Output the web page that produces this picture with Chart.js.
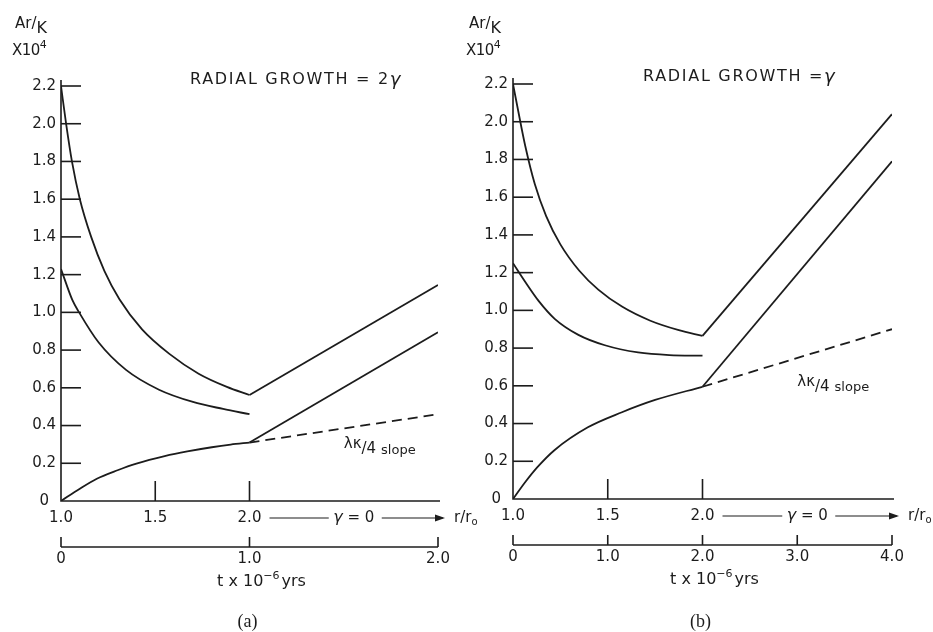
<!DOCTYPE html>
<html>
<head>
<meta charset="utf-8">
<script src="https://cdn.jsdelivr.net/npm/chart.js@4.4.0/dist/chart.umd.min.js"></script>
<style>
  html, body { margin: 0; padding: 0; background: #fff; }
  #wrap { position: relative; width: 933px; height: 632px; overflow: hidden; }
  canvas { position: absolute; top: 0; }
  #ca { left: 0; }
  #cb { left: 466px; }
</style>
</head>
<body>
<div id="wrap">
  <canvas id="ca" width="490" height="632"></canvas>
  <canvas id="cb" width="467" height="632"></canvas>
</div>
<script>
// y axis (Ar/K x 10^4), shared by both panels
const yTicks = [0, 0.2, 0.4, 0.6, 0.8, 1.0, 1.2, 1.4, 1.6, 1.8, 2.0, 2.2];
const yTickLabels = ['0', '0.2', '0.4', '0.6', '0.8', '1.0', '1.2', '1.4', '1.6', '1.8', '2.0', '2.2'];
const rLabels = ['1.0', '1.5', '2.0'];

// panel (a): radial growth = 2 gamma, x in t (10^6 yrs)
const aRTicks = [0, 0.5, 1.0];
const aTimeTicks = [0, 1.0, 2.0];
const aTimeLabels = ['0', '1.0', '2.0'];
const aUpperT = [0, 0.027, 0.058, 0.1, 0.16, 0.23, 0.31, 0.43, 0.575, 0.73, 0.88, 1.0];
const aUpperY = [2.2, 2.0, 1.8, 1.6, 1.4, 1.22, 1.07, 0.91, 0.78, 0.675, 0.605, 0.562];
const aMidT = [0, 0.06, 0.096, 0.2, 0.345, 0.52, 0.7, 0.86, 1.0];
const aMidY = [1.23, 1.066, 1.0, 0.84, 0.695, 0.59, 0.525, 0.488, 0.46];
const aLowT = [0, 0.1, 0.19, 0.3, 0.4, 0.55, 0.67, 0.8, 0.9, 1.0];
const aLowY = [0, 0.065, 0.118, 0.163, 0.198, 0.238, 0.263, 0.285, 0.299, 0.31];
const aUpperLineY = [0.562, 1.145];   // t = 1 -> 2
const aLowLineY = [0.31, 0.895];
const aSlopeY = [0.31, 0.46];

// panel (b): radial growth = gamma
const bRTicks = [0, 1.0, 2.0];
const bTimeTicks = [0, 1.0, 2.0, 3.0, 4.0];
const bTimeLabels = ['0', '1.0', '2.0', '3.0', '4.0'];
const bUpperT = [0, 0.05, 0.13, 0.23, 0.35, 0.5, 0.7, 0.9, 1.15, 1.45, 1.75, 2.0];
const bUpperY = [2.2, 2.07, 1.87, 1.67, 1.5, 1.35, 1.21, 1.11, 1.02, 0.945, 0.895, 0.865];
const bMidT = [0, 0.13, 0.27, 0.44, 0.69, 0.97, 1.32, 1.65, 2.0];
const bMidY = [1.25, 1.15, 1.05, 0.955, 0.87, 0.815, 0.777, 0.763, 0.76];
const bLowT = [0, 0.13, 0.26, 0.44, 0.79, 1.15, 1.5, 2.0];
const bLowY = [0, 0.09, 0.17, 0.26, 0.38, 0.46, 0.525, 0.595];
const bUpperLineY = [0.865, 2.04];   // t = 2 -> 4
const bLowLineY = [0.595, 1.79];
const bSlopeY = [0.595, 0.90];

const INK = '#1c1c1c';
const SANS = '"DejaVu Sans", sans-serif';

function pts(xs, ys) { return xs.map((x, i) => ({ x: x, y: ys[i] })); }

function curve(data) {
  return { data: data, borderColor: INK, borderWidth: 1.8, pointRadius: 0,
           cubicInterpolationMode: 'monotone', fill: false };
}
function straight(data, dash) {
  return { data: data, borderColor: INK, borderWidth: 1.8, pointRadius: 0,
           tension: 0, fill: false, borderDash: dash || [] };
}

// draw a row of text pieces (normal / super / sub)
function runs(ctx, parts, x, y, align) {
  let total = 0;
  parts.forEach(p => {
    ctx.font = p.f; ctx.letterSpacing = p.ls || '0px';
    total += ctx.measureText(p.t).width + (p.gap || 0);
  });
  let cx = align === 'center' ? x - total / 2 : (align === 'right' ? x - total : x);
  ctx.textAlign = 'left';
  ctx.textBaseline = 'middle';
  parts.forEach(p => {
    ctx.font = p.f;
    ctx.letterSpacing = p.ls || '0px';
    ctx.fillText(p.t, cx, y + (p.dy || 0));
    cx += ctx.measureText(p.t).width + (p.gap || 0);
  });
  ctx.letterSpacing = '0px';
}

const axesPlugin = {
  id: 'paperAxes',
  afterDraw(chart) {
    const o = chart.options.plugins.paperAxes;
    const { ctx, chartArea: a } = chart;
    const xs = chart.scales.x, ys = chart.scales.y;
    ctx.save();
    ctx.strokeStyle = INK;
    ctx.fillStyle = INK;
    ctx.lineWidth = 1.6;

    // main axes
    ctx.beginPath();
    ctx.moveTo(a.left, a.top - 6);
    ctx.lineTo(a.left, a.bottom);
    ctx.lineTo(a.right + 2, a.bottom);
    ctx.stroke();

    // y ticks inward + labels
    ctx.font = '15px ' + SANS;
    ctx.textAlign = 'right';
    ctx.textBaseline = 'middle';
    yTicks.forEach((v, i) => {
      const py = ys.getPixelForValue(v);
      if (v > 0) {
        ctx.beginPath(); ctx.moveTo(a.left, py); ctx.lineTo(a.left + 20, py); ctx.stroke();
        ctx.fillText(yTickLabels[i], a.left - 5, py);
      } else {
        ctx.fillText(yTickLabels[i], a.left - 12, py);
      }
    });

    // r/r0 ticks (upwards) and labels
    o.rTicks.forEach((t, i) => {
      const px = xs.getPixelForValue(t);
      if (i > 0) {
        ctx.beginPath(); ctx.moveTo(px, a.bottom); ctx.lineTo(px, a.bottom - 20); ctx.stroke();
      }
      ctx.textAlign = 'center';
      ctx.fillText(rLabels[i], px, a.bottom + 17);
    });

    // "---- gamma = 0 ---->" r/r0
    const x2 = xs.getPixelForValue(o.rTicks[o.rTicks.length - 1]);
    const xEnd = xs.getPixelForValue(xs.max);
    const gy = a.bottom + 17;
    const gc = (x2 + xEnd) / 2 + 10;
    ctx.lineWidth = 1.2;
    ctx.beginPath();
    ctx.moveTo(x2 + 20, gy); ctx.lineTo(gc - 25, gy);
    ctx.moveTo(gc + 28, gy); ctx.lineTo(xEnd + 5, gy);
    ctx.stroke();
    ctx.beginPath();
    ctx.moveTo(xEnd + 7, gy); ctx.lineTo(xEnd - 3, gy - 3.5); ctx.lineTo(xEnd - 3, gy + 3.5);
    ctx.closePath(); ctx.fill();
    runs(ctx, [{ t: 'γ', f: 'italic 16px ' + SANS }, { t: ' = 0', f: '15px ' + SANS }], gc, gy, 'center');
    runs(ctx, [{ t: 'r/r', f: '15px ' + SANS }, { t: 'o', f: '10px ' + SANS, dy: 4 }], xEnd + 16, gy, 'left');

    // time axis
    const ty = a.bottom + 46;
    ctx.lineWidth = 1.6;
    ctx.beginPath(); ctx.moveTo(a.left, ty); ctx.lineTo(xEnd, ty); ctx.stroke();
    ctx.font = '15px ' + SANS;
    o.timeTicks.forEach((t, i) => {
      const px = xs.getPixelForValue(t);
      ctx.beginPath(); ctx.moveTo(px, ty); ctx.lineTo(px, ty - 10); ctx.stroke();
      ctx.textAlign = 'center'; ctx.textBaseline = 'middle';
      ctx.fillText(o.timeLabels[i], px, ty + 12);
    });
    const tc = xs.getPixelForValue((xs.min + xs.max) / 2) + 12;
    runs(ctx, [{ t: 't x 10', f: '16px ' + SANS }, { t: '−6', f: '11px ' + SANS, dy: -6, gap: 2 },
               { t: 'yrs', f: '16px ' + SANS }], tc, a.bottom + 81, 'center');

    // caption
    ctx.font = '18px "Liberation Serif", serif';
    ctx.textAlign = 'center';
    ctx.fillText(o.caption, xs.getPixelForValue((xs.min + xs.max) / 2) - 2, 622);

    // y axis title
    const lx = o.yTitleX;
    runs(ctx, [{ t: 'Ar/', f: '15px ' + SANS }, { t: 'K', f: '16px ' + SANS, dy: 5 }], lx + 3, 24, 'left');
    runs(ctx, [{ t: 'X10', f: '15px ' + SANS, ls: '-0.5px' }, { t: '4', f: '11px ' + SANS, dy: -6 }], lx, 51, 'left');

    // panel title
    runs(ctx, o.title, o.titleX, o.titleY, 'left');

    // slope note
    const sx = xs.getPixelForValue(o.slopeAt[0]);
    const sy = ys.getPixelForValue(o.slopeAt[1]);
    runs(ctx, [{ t: 'λκ', f: '15px ' + SANS }, { t: '/4', f: '15px ' + SANS, dy: 5, gap: 5 },
               { t: 'slope', f: '13px ' + SANS, dy: 6 }], sx, sy, 'left');
    ctx.restore();
  }
};

function makePanel(id, p) {
  return new Chart(document.getElementById(id), {
    type: 'line',
    data: { datasets: p.datasets },
    options: {
      responsive: false,
      animation: false,
      devicePixelRatio: 1,
      layout: { padding: p.padding },
      scales: {
        x: { type: 'linear', min: 0, max: p.tMax, display: false },
        y: { type: 'linear', min: 0, max: 2.2, display: false }
      },
      plugins: {
        legend: { display: false },
        tooltip: { enabled: false },
        paperAxes: p.axes
      }
    },
    plugins: [axesPlugin]
  });
}

makePanel('ca', {
  tMax: 2.0,
  padding: { left: 61, right: 52, top: 86, bottom: 131 },
  datasets: [
    curve(pts(aUpperT, aUpperY)),
    curve(pts(aMidT, aMidY)),
    curve(pts(aLowT, aLowY)),
    straight(pts([1.0, 2.0], aUpperLineY)),
    straight(pts([1.0, 2.0], aLowLineY)),
    straight(pts([1.0, 2.0], aSlopeY), [10, 6])
  ],
  axes: {
    rTicks: aRTicks, timeTicks: aTimeTicks, timeLabels: aTimeLabels, caption: '(a)',
    yTitleX: 12,
    title: [{ t: 'RADIAL GROWTH = 2', f: '16px ' + SANS, ls: '1.7px' }, { t: 'γ', f: 'italic 18px ' + SANS }],
    titleX: 190, titleY: 80,
    slopeAt: [1.5, 0.3]
  }
});

makePanel('cb', {
  tMax: 4.0,
  padding: { left: 47, right: 41, top: 84, bottom: 133 },
  datasets: [
    curve(pts(bUpperT, bUpperY)),
    curve(pts(bMidT, bMidY)),
    curve(pts(bLowT, bLowY)),
    straight(pts([2.0, 4.0], bUpperLineY)),
    straight(pts([2.0, 4.0], bLowLineY)),
    straight(pts([2.0, 4.0], bSlopeY), [10, 6])
  ],
  axes: {
    rTicks: bRTicks, timeTicks: bTimeTicks, timeLabels: bTimeLabels, caption: '(b)',
    yTitleX: 0,
    title: [{ t: 'RADIAL GROWTH =', f: '16px ' + SANS, ls: '1.7px' }, { t: 'γ', f: 'italic 18px ' + SANS }],
    titleX: 177, titleY: 77,
    slopeAt: [3.0, 0.62]
  }
});
</script>
</body>
</html>
